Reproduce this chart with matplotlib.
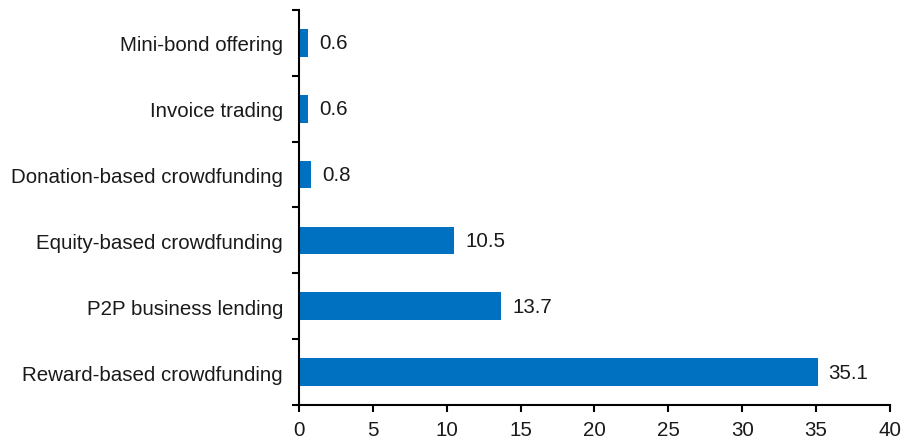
import matplotlib.pyplot as plt
import numpy as np

categories = ["Reward-based crowdfunding", "P2P business lending",
              "Equity-based crowdfunding", "Donation-based crowdfunding",
              "Invoice trading", "Mini-bond offering"]
values = [35.1, 13.7, 10.5, 0.8, 0.6, 0.6]
xticks = [0, 5, 10, 15, 20, 25, 30, 35, 40]

plt.rcParams['font.family'] = ['Liberation Sans', 'DejaVu Sans']
fs = 14.8

fig = plt.figure(figsize=(9.03, 4.39), dpi=100)
ax = fig.add_axes([0.331, 0.0752, 0.6546, 0.8998])

y = np.arange(len(categories))
ax.barh(y, values, height=0.42, color="#0070C0")
for yi, v in zip(y, values):
    ax.text(v + 0.75, yi, f"{v}", va="center", ha="left", fontsize=fs, color="#1a1a1a")

ax.set_xlim(0, 40)
ax.set_ylim(-0.5, len(categories) - 0.5)
ax.set_xticks(xticks)
ax.set_yticks(y)
ax.set_yticklabels(categories, color="#1a1a1a")
ax.set_yticks(np.arange(-0.5, len(categories)), minor=True)
ax.tick_params(axis="y", which="major", length=0, pad=11.5, labelsize=fs)
ax.tick_params(axis="y", which="minor", length=5, width=1.5, direction="out")
ax.tick_params(axis="x", length=5, width=1.5, direction="out", labelsize=fs,
               pad=6, labelcolor="#1a1a1a")

for s in ["top", "right"]:
    ax.spines[s].set_visible(False)
for s in ["left", "bottom"]:
    ax.spines[s].set_linewidth(1.5)
    ax.spines[s].set_color("black")

fig.savefig("out.png", dpi=100)
